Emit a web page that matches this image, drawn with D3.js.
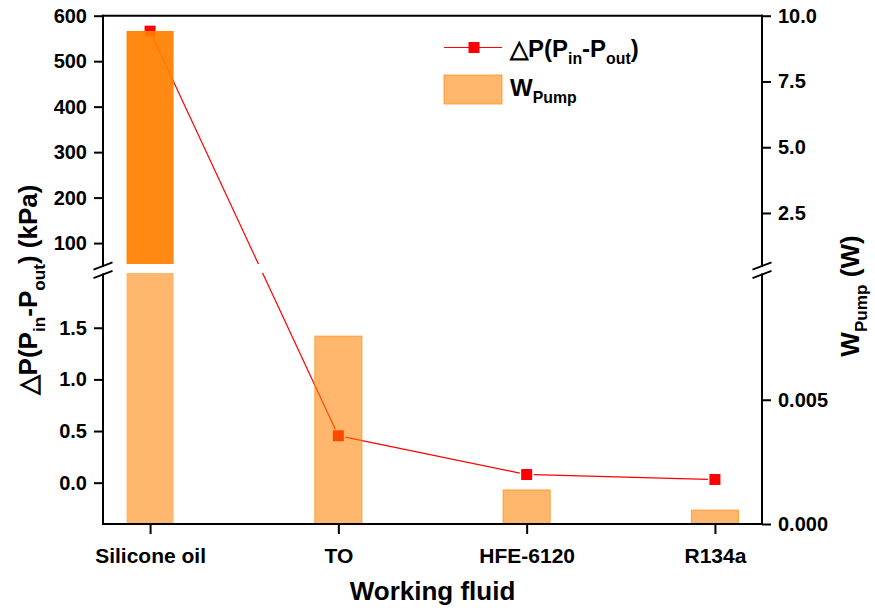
<!DOCTYPE html>
<html><head><meta charset="utf-8">
<script src="https://cdn.jsdelivr.net/npm/d3@7"></script>
<style>
body{margin:0;background:#fff}
text{font-family:"Liberation Sans",Arial,sans-serif;font-weight:bold;fill:#000}
</style>
</head><body><svg id="c" width="875" height="613"></svg>
<script>
// ---- data ----
const categories = ["Silicone oil", "TO", "HFE-6120", "R134a"];
const deltaP = [566, 0.454, 0.079, 0.031];          // kPa
const wPump = [9.42, 0.00756, 0.00137, 0.00056];     // W
const leftUpperTicks = [100, 200, 300, 400, 500, 600];
const leftLowerTicks = [0.0, 0.5, 1.0, 1.5];
const rightUpperTicks = [2.5, 5.0, 7.5, 10.0];
const rightLowerTicks = [0.000, 0.005];

// ---- layout ----
const L = 103, R = 762, T = 15.7, B = 524, brkTop = 264, brkBot = 273;
const svg = d3.select("#c");

const x = d3.scalePoint().domain(categories).range([L, R]).padding(0.25);
const yUL = d3.scaleLinear().domain([54, 600]).range([brkTop, T]);
const yLL = d3.scaleLinear().domain([-0.4, 2.03]).range([B, brkBot]);
const yUR = d3.scaleLinear().domain([0.56, 10]).range([brkTop, T]);
const yLR = d3.scaleLinear().domain([0, 0.0101]).range([B, brkBot]);
const bw = x.step() * 0.25;

// clip for break band
const defs = svg.append("defs");
const cp = defs.append("clipPath").attr("id", "brk");
cp.append("rect").attr("x", 0).attr("y", 0).attr("width", 875).attr("height", brkTop);
cp.append("rect").attr("x", 0).attr("y", brkBot).attr("width", 875).attr("height", 613 - brkBot);

// ---- line series (drawn below bars) ----
const py = v => v >= yUL.domain()[0] ? yUL(v) : yLL(v);
const pts = categories.map((c, i) => [x(c), py(deltaP[i])]);
const lineG = svg.append("g").attr("clip-path", "url(#brk)");
const gap = 7;
for (let i = 0; i < pts.length - 1; i++) {
  const [x0, y0] = pts[i], [x1, y1] = pts[i + 1];
  const d = Math.hypot(x1 - x0, y1 - y0), ux = (x1 - x0) / d, uy = (y1 - y0) / d;
  lineG.append("line")
    .attr("x1", x0 + ux * gap).attr("y1", y0 + uy * gap)
    .attr("x2", x1 - ux * gap).attr("y2", y1 - uy * gap)
    .attr("stroke", "#ff0000").attr("stroke-width", 1.2);
}
svg.append("g").selectAll("rect").data(pts).join("rect")
  .attr("x", d => d[0] - 5.5).attr("y", d => d[1] - 5.5)
  .attr("width", 11).attr("height", 11).attr("fill", "#ff0000");

// ---- bars (semi-transparent, on top) ----
const barG = svg.append("g");
categories.forEach((c, i) => {
  const v = wPump[i];
  const top = Math.min(v, yLR.domain()[1]);
  barG.append("rect")
    .attr("x", x(c) - bw / 2).attr("y", yLR(top))
    .attr("width", bw).attr("height", B - yLR(top))
    .attr("fill", "rgba(255,128,0,0.57)")
    .attr("stroke", v > yLR.domain()[1] ? "none" : "rgba(255,140,20,0.75)").attr("stroke-width", 1);
  if (v > yUR.domain()[0]) {
    barG.append("rect")
      .attr("x", x(c) - bw / 2).attr("y", yUR(v))
      .attr("width", bw).attr("height", brkTop - yUR(v))
      .attr("fill", "rgba(255,128,0,0.93)");
  }
});

// ---- axes ----
function styleAxis(g) {
  g.select(".domain").remove();
  g.selectAll(".tick line").attr("stroke", "#000").attr("stroke-width", 2);
  g.selectAll(".tick text").attr("font-size", 20).attr("fill", "#000")
    .style("font-family", '"Liberation Sans",Arial,sans-serif').style("font-weight", "bold");
}
svg.append("g").attr("transform", `translate(${L},0)`)
  .call(d3.axisLeft(yUL).tickValues(leftUpperTicks).tickSize(9).tickPadding(7).tickFormat(d3.format("d"))).call(styleAxis);
svg.append("g").attr("transform", `translate(${L},0)`)
  .call(d3.axisLeft(yLL).tickValues(leftLowerTicks).tickSize(9).tickPadding(7).tickFormat(d3.format(".1f"))).call(styleAxis);
svg.append("g").attr("transform", `translate(${R},0)`)
  .call(d3.axisRight(yUR).tickValues(rightUpperTicks).tickSize(9).tickPadding(7).tickFormat(d3.format(".1f"))).call(styleAxis);
svg.append("g").attr("transform", `translate(${R},0)`)
  .call(d3.axisRight(yLR).tickValues(rightLowerTicks).tickSize(9).tickPadding(7).tickFormat(d3.format(".3f"))).call(styleAxis);
const xg = svg.append("g").attr("transform", `translate(0,${B})`)
  .call(d3.axisBottom(x).tickSize(10).tickSizeOuter(0)).call(styleAxis);
xg.selectAll(".tick text").attr("y", 39).attr("dy", 0).attr("font-size", 21);

// frame lines
const ln = (x1, y1, x2, y2, w) => svg.append("line").attr("x1", x1).attr("y1", y1).attr("x2", x2).attr("y2", y2)
  .attr("stroke", "#000").attr("stroke-width", w || 2).attr("stroke-linecap", "square");
const s1 = brkTop + 2, s2 = brkBot + 1.5;
[L, R].forEach(xa => {
  ln(xa, T, xa, s1);
  ln(xa, s2, xa, B);
  [s1, s2].forEach(yc => {
    svg.append("line").attr("x1", xa - 9.5).attr("y1", yc + 3.6).attr("x2", xa + 9.5).attr("y2", yc - 3.6)
      .attr("stroke", "#000").attr("stroke-width", 1.8);
  });
});
ln(L, T, R, T);
ln(L, B, R, B);

// ---- rich text helper ----
function rich(sel, parts, fs) {
  const sub = fs * 0.66, sh = fs * 0.3;
  let shifted = false;
  parts.forEach(([t, isSub]) => {
    const ts = sel.append("tspan").text(t).attr("font-size", isSub ? sub : fs);
    if (isSub && !shifted) { ts.attr("dy", sh); shifted = true; }
    else if (!isSub && shifted) { ts.attr("dy", -sh); shifted = false; }
  });
}

// axis titles
rich(svg.append("text").attr("text-anchor", "middle").attr("transform", "translate(37,290) rotate(-90)"),
  [["△P(P", 0], ["in", 1], ["-P", 0], ["out", 1], [") (kPa)", 0]], 26);
rich(svg.append("text").attr("text-anchor", "middle").attr("transform", "translate(859,296) rotate(-90)"),
  [["W", 0], ["Pump", 1], [" (W)", 0]], 26);
svg.append("text").attr("x", (L + R) / 2).attr("y", 600).attr("text-anchor", "middle")
  .attr("font-size", 26).text("Working fluid");

// ---- legend ----
svg.append("line").attr("x1", 444).attr("x2", 502).attr("y1", 47.5).attr("y2", 47.5)
  .attr("stroke", "#ff0000").attr("stroke-width", 1.2);
svg.append("rect").attr("x", 474 - 5.5).attr("y", 47.5 - 5.5).attr("width", 11).attr("height", 11).attr("fill", "#ff0000");
rich(svg.append("text").attr("x", 510).attr("y", 57),
  [["△P(P", 0], ["in", 1], ["-P", 0], ["out", 1], [")", 0]], 24);
svg.append("rect").attr("x", 444).attr("y", 75).attr("width", 58).attr("height", 29)
  .attr("fill", "rgba(255,128,0,0.57)").attr("stroke", "rgba(255,140,20,0.75)").attr("stroke-width", 1);
rich(svg.append("text").attr("x", 510).attr("y", 96),
  [["W", 0], ["Pump", 1]], 24);
</script>
</body></html>
